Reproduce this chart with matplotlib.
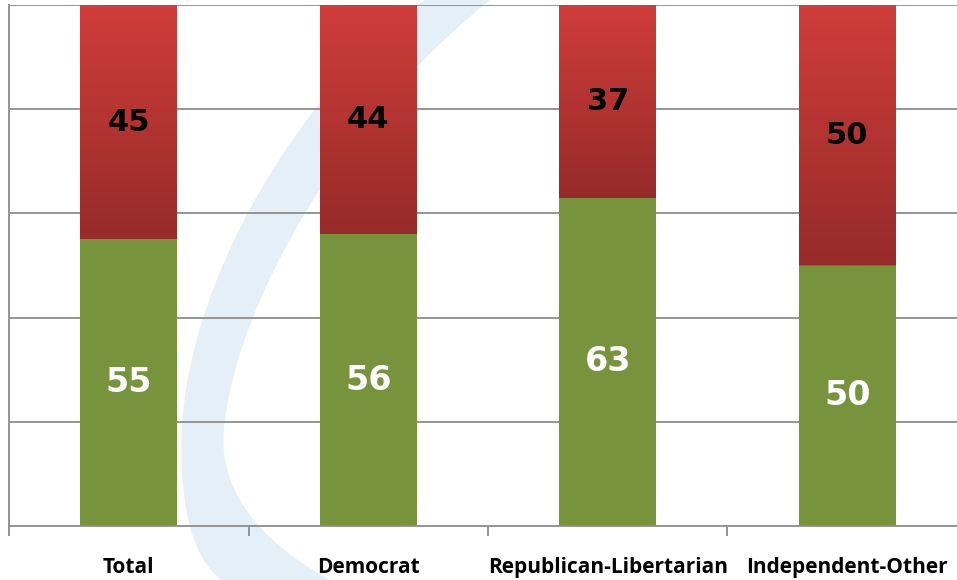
"""Stacked 100% bar chart: yes/no split by party."""

import matplotlib
matplotlib.use("Agg")
import matplotlib.pyplot as plt
import numpy as np
from matplotlib.colors import LinearSegmentedColormap
from matplotlib.patches import PathPatch
from matplotlib.path import Path as MPath

categories = ["Total", "Democrat", "Republican-Libertarian", "Independent-Other"]
green_vals = [55, 56, 63, 50]
red_vals = [45, 44, 37, 50]

GREEN = "#77933C"
RED_TOP = "#D03D3A"
RED_BOTTOM = "#962B29"

fig = plt.figure(figsize=(9.57, 5.8), dpi=100)
W, H = 957, 580
ax = fig.add_axes([9 / W, (H - 526) / H, 958 / W, 521 / H])
ax.patch.set_alpha(0)

# faint blue swoosh watermark behind the plot (figure pixel coords)
verts = [(425, 0), (300, 90), (170, 300), (182, 470),
         (185, 530), (200, 570), (230, 585),
         (340, 585),
         (250, 540), (215, 480), (225, 420),
         (240, 300), (340, 120), (490, 0),
         (425, 0)]
codes = [MPath.MOVETO, MPath.CURVE4, MPath.CURVE4, MPath.CURVE4,
         MPath.CURVE4, MPath.CURVE4, MPath.CURVE4,
         MPath.LINETO,
         MPath.CURVE4, MPath.CURVE4, MPath.CURVE4,
         MPath.CURVE4, MPath.CURVE4, MPath.CURVE4,
         MPath.CLOSEPOLY]
pts = [(vx / W, 1 - vy / H) for vx, vy in verts]
swoosh = PathPatch(MPath(pts, codes), transform=fig.transFigure,
                   facecolor="#D5E5F2", edgecolor="none", alpha=0.6, zorder=-1)
fig.patches.append(swoosh)

x = np.arange(len(categories))
width = 0.405

green_bars = ax.bar(x, green_vals, width, color=GREEN, zorder=2)
red_bars = ax.bar(x, red_vals, width, bottom=green_vals, color=RED_TOP, zorder=2)

# vertical gradient on the red segments
cmap = LinearSegmentedColormap.from_list("redgrad", [RED_BOTTOM, RED_TOP])
grad = np.linspace(0, 1, 256).reshape(-1, 1)
for bar in red_bars:
    x0, y0 = bar.get_x(), bar.get_y()
    im = ax.imshow(grad, cmap=cmap, origin="lower", aspect="auto",
                   extent=[x0, x0 + bar.get_width(), y0, y0 + bar.get_height()],
                   zorder=2.5)
    im.set_clip_path(bar)

for i in range(len(categories)):
    ax.text(x[i], green_vals[i] / 2, str(green_vals[i]), ha="center", va="center",
            color="white", fontsize=24, fontweight="bold", family="DejaVu Sans",
            fontstretch="normal", zorder=3)
    ax.text(x[i], green_vals[i] + red_vals[i] / 2, str(red_vals[i]), ha="center",
            va="center", color="black", fontsize=22, fontweight="bold",
            family="DejaVu Sans", fontstretch="normal", zorder=3)

ax.set_xlim(-0.5, 3.5)
ax.set_ylim(0, 100)
ax.set_yticks([20, 40, 60, 80, 100])
ax.yaxis.grid(True, color="#8C8C8C", linewidth=1.3)
ax.set_axisbelow(True)
ax.tick_params(axis="y", left=False, labelleft=False)

ax.set_xticks(x)
ax.set_xticklabels(categories, fontsize=15, fontweight="bold",
                   family="Open Sans", fontstretch="condensed")
ax.set_xticks(np.arange(-0.5, 3.5, 1.0), minor=True)
ax.tick_params(axis="x", which="major", length=0, pad=22)
ax.tick_params(axis="x", which="minor", length=7, width=1.3, color="#8C8C8C",
               direction="out")

for side in ["top", "right"]:
    ax.spines[side].set_visible(False)
for side in ["left", "bottom"]:
    ax.spines[side].set_color("#8C8C8C")
    ax.spines[side].set_linewidth(1.3)

fig.savefig("out.png", dpi=100)
